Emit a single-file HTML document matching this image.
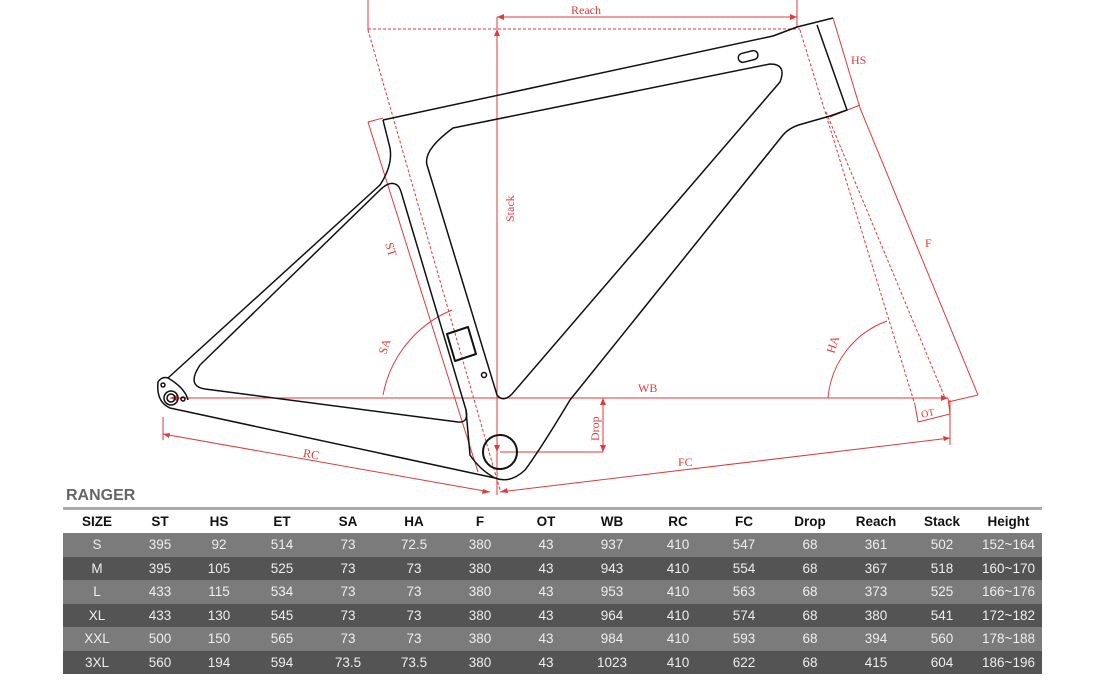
<!DOCTYPE html>
<html><head><meta charset="utf-8"><style>
html,body{margin:0;padding:0;background:#fff;}
#w{position:relative;width:1105px;height:681px;overflow:hidden;font-family:"Liberation Sans",sans-serif;}
svg{position:absolute;left:0;top:0;}
#rng{position:absolute;left:66px;top:487px;font-size:16px;font-weight:bold;color:#666;}
#bar{position:absolute;left:63px;top:507px;width:979px;height:3px;background:#aaa;}
table{position:absolute;left:63px;top:510px;border-collapse:collapse;table-layout:fixed;width:979px;}
td{padding:0;text-align:center;font-size:13.5px;height:23.5px;color:#eee;}
tr.h td{height:23px;font-weight:bold;color:#111;background:#fff;}
tr.a td{background:#7b7b7b;}
tr.b td{background:#545454;}
</style></head><body><div id="w">
<svg width="1105" height="681" viewBox="0 0 1105 681">
<g fill="none" stroke="#e03a3a" stroke-width="1">
<line x1="368" y1="0" x2="368" y2="30"/>
<line x1="797" y1="0" x2="797" y2="27"/>
<line x1="497" y1="17" x2="797" y2="17"/>
<line x1="368" y1="29" x2="800" y2="29" stroke-dasharray="3,2"/>
<line x1="497" y1="17" x2="497" y2="495"/>
<line x1="368" y1="30" x2="500" y2="490" stroke-dasharray="3,2"/>
<line x1="368" y1="122" x2="478" y2="472"/>
<line x1="368" y1="122" x2="383" y2="118"/>
<path d="M383,395 A115,115 0 0 1 452,310"/>
<line x1="170" y1="398" x2="948" y2="398"/>
<line x1="603" y1="398" x2="603" y2="452"/>
<line x1="500" y1="452" x2="603" y2="452"/>
<line x1="163" y1="417" x2="163" y2="440"/>
<line x1="163" y1="434" x2="490" y2="492"/>
<line x1="500" y1="492" x2="950" y2="438"/>
<line x1="950" y1="400" x2="950" y2="445"/>
<line x1="833" y1="18" x2="860" y2="108"/>
<line x1="830" y1="117" x2="860" y2="105"/>
<line x1="860" y1="108" x2="978" y2="395"/>
<line x1="978" y1="395" x2="948" y2="402"/>
<line x1="800" y1="30" x2="915" y2="405" stroke-dasharray="3,2"/>
<line x1="826" y1="112" x2="945" y2="398" stroke-dasharray="3,2"/>
<path d="M828,398 A90,90 0 0 1 887,321"/>
<path d="M915,405 L918,422 L950,414 L948,398"/>
</g>
<g fill="#e03a3a">
<path d="M497,17 l7,-3 v6z M797,17 l-7,-3 v6z M497,29 l-3,7 h6z M497,452 l-3,-7 h6z M170,398 l7,-3 v6z M948,398 l-7,-3 v6z M603,398 l-3,7 h6z M603,452 l-3,-7 h6z M163,434 l7,-1 -1,5z M490,492 l-7,-3 -1,5z M500,492 l7,-4 1,5z M950,438 l-7,-2 1,5z"/>
</g>
<g font-family="Liberation Serif,serif" font-size="12" fill="#e03a3a">
<text x="571" y="14">Reach</text>
<text transform="translate(514,222) rotate(-90)">Stack</text>
<text transform="translate(385,244) rotate(72)">ST</text>
<text transform="translate(386,355) rotate(-72)">SA</text>
<text x="638" y="392">WB</text>
<text transform="translate(599,441) rotate(-90)">Drop</text>
<text x="303" y="458" transform="rotate(10 310 455)">RC</text>
<text x="678" y="466">FC</text>
<text x="851" y="64">HS</text>
<text x="925" y="247">F</text>
<text transform="translate(834,354) rotate(-72)">HA</text>
<text x="921" y="416" font-size="10" transform="rotate(-12 930 413)">OT</text>
</g>
<g fill="none" stroke="#111" stroke-width="1.5" stroke-linejoin="round">
<path d="M383,120 L773,36 L797,27 L833,18 M817,25 L847,110 L830,116 L802,124 Q790,127 783,135 L570,400 Q540,450 525,470 Q510,484 495,478 L170,408 Q156,402 158,382 Q162,376 168,378 Q185,388 188,400 M168,378 L380,185 Q393,165 390,148 L383,120"/>
<path d="M453,128 L770,64 Q787,64 780,82 L512,394 Q503,403 497,395 L427,165 Q423,150 453,128 Z"/>
<path d="M397,185 Q390,180 380,190 L200,365 Q186,386 205,389 L458,422 Q469,423 466,410 L402,195 Q400,187 397,185 Z"/>
<path d="M495,478 Q480,470 470,455 L466,410"/>
<circle cx="500" cy="452" r="17" stroke-width="2"/>
<circle cx="171" cy="398" r="7"/>
<circle cx="171" cy="398" r="4"/>
<circle cx="163" cy="385" r="2"/>
<circle cx="183" cy="399" r="2"/>
<circle cx="484" cy="375" r="2.5"/>
<rect x="738" y="52" width="20" height="9" rx="4.5" transform="rotate(-14 748 56)"/>
<path d="M447,334 L468,327 L476,354 L455,361 Z" stroke-width="2"/>
</g>
</svg>
<div id="rng">RANGER</div>
<div id="bar"></div>
<table>
<colgroup><col style="width:68px"><col style="width:58px"><col style="width:60px"><col style="width:66px"><col style="width:66px"><col style="width:66px"><col style="width:66px"><col style="width:66px"><col style="width:66px"><col style="width:66px"><col style="width:66px"><col style="width:66px"><col style="width:66px"><col style="width:66px"><col style="width:67px"></colgroup>
<tr class="h"><td>SIZE</td><td>ST</td><td>HS</td><td>ET</td><td>SA</td><td>HA</td><td>F</td><td>OT</td><td>WB</td><td>RC</td><td>FC</td><td>Drop</td><td>Reach</td><td>Stack</td><td>Height</td></tr>
<tr class="a"><td>S</td><td>395</td><td>92</td><td>514</td><td>73</td><td>72.5</td><td>380</td><td>43</td><td>937</td><td>410</td><td>547</td><td>68</td><td>361</td><td>502</td><td>152~164</td></tr>
<tr class="b"><td>M</td><td>395</td><td>105</td><td>525</td><td>73</td><td>73</td><td>380</td><td>43</td><td>943</td><td>410</td><td>554</td><td>68</td><td>367</td><td>518</td><td>160~170</td></tr>
<tr class="a"><td>L</td><td>433</td><td>115</td><td>534</td><td>73</td><td>73</td><td>380</td><td>43</td><td>953</td><td>410</td><td>563</td><td>68</td><td>373</td><td>525</td><td>166~176</td></tr>
<tr class="b"><td>XL</td><td>433</td><td>130</td><td>545</td><td>73</td><td>73</td><td>380</td><td>43</td><td>964</td><td>410</td><td>574</td><td>68</td><td>380</td><td>541</td><td>172~182</td></tr>
<tr class="a"><td>XXL</td><td>500</td><td>150</td><td>565</td><td>73</td><td>73</td><td>380</td><td>43</td><td>984</td><td>410</td><td>593</td><td>68</td><td>394</td><td>560</td><td>178~188</td></tr>
<tr class="b"><td>3XL</td><td>560</td><td>194</td><td>594</td><td>73.5</td><td>73.5</td><td>380</td><td>43</td><td>1023</td><td>410</td><td>622</td><td>68</td><td>415</td><td>604</td><td>186~196</td></tr>
</table>
</div></body></html>
